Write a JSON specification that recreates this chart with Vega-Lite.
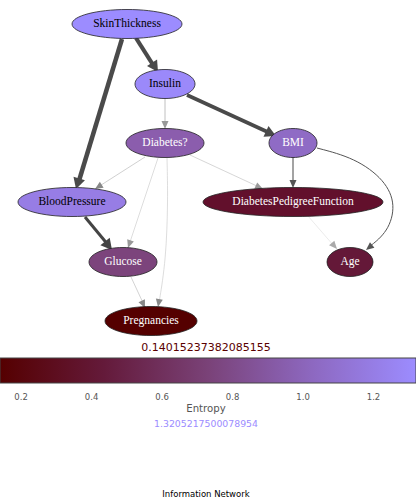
{
"$schema":"https://vega.github.io/schema/vega-lite/v6.json",
"width":416,"height":501,"padding":0,"autosize":{"type":"none"},
"config":{"view":{"stroke":null}},
"datasets":{
"nodes":[
{"name":"SkinThickness","x":127,"y":24,"entropy":1.3205},
{"name":"Insulin","x":165,"y":84,"entropy":1.30},
{"name":"Diabetes?","x":165,"y":143,"entropy":0.95},
{"name":"BMI","x":293,"y":143,"entropy":1.05},
{"name":"BloodPressure","x":72,"y":202,"entropy":1.2},
{"name":"DiabetesPedigreeFunction","x":293,"y":202,"entropy":0.35},
{"name":"Glucose","x":123,"y":262,"entropy":0.75},
{"name":"Age","x":350,"y":262,"entropy":0.42},
{"name":"Pregnancies","x":151,"y":321,"entropy":0.1402}
],
"edges":[
{"edge":"e01","i":0,"x":136,"y":38},{"edge":"e01","i":1,"x":155,"y":68},
{"edge":"e02","i":0,"x":122,"y":39},{"edge":"e02","i":1,"x":78,"y":184},
{"edge":"e03","i":0,"x":187,"y":95},{"edge":"e03","i":1,"x":272,"y":134},
{"edge":"e04","i":0,"x":165,"y":98},{"edge":"e04","i":1,"x":165,"y":126},
{"edge":"e05","i":0,"x":145,"y":157},{"edge":"e05","i":1,"x":98,"y":187},
{"edge":"e06","i":0,"x":158,"y":158},{"edge":"e06","i":1,"x":129,"y":245},
{"edge":"e07","i":0,"x":167,"y":158},{"edge":"e07","i":1,"x":168,"y":200},{"edge":"e07","i":2,"x":166,"y":260},{"edge":"e07","i":3,"x":159,"y":303},
{"edge":"e08","i":0,"x":190,"y":155},{"edge":"e08","i":1,"x":259,"y":187},
{"edge":"e09","i":0,"x":293,"y":157},{"edge":"e09","i":1,"x":293,"y":185},
{"edge":"e10","i":0,"x":317,"y":148},{"edge":"e10","i":1,"x":355,"y":158},{"edge":"e10","i":2,"x":385,"y":180},{"edge":"e10","i":3,"x":396,"y":205},{"edge":"e10","i":4,"x":388,"y":232},{"edge":"e10","i":5,"x":369,"y":247},
{"edge":"e11","i":0,"x":85,"y":217},{"edge":"e11","i":1,"x":109,"y":246},
{"edge":"e12","i":0,"x":131,"y":277},{"edge":"e12","i":1,"x":144,"y":305},
{"edge":"e13","i":0,"x":308,"y":216},{"edge":"e13","i":1,"x":334,"y":246}
],
"arrows":[
{"edge":"e01","px":136,"py":38,"x":158,"y":72,"kind":"big"},
{"edge":"e02","px":122,"py":39,"x":76,"y":189,"kind":"big"},
{"edge":"e03","px":187,"py":95,"x":276,"y":136,"kind":"big"},
{"edge":"e04","px":165,"py":98,"x":165,"y":129,"kind":"small"},
{"edge":"e05","px":145,"py":157,"x":95,"y":189,"kind":"small"},
{"edge":"e06","px":158,"py":158,"x":128,"y":248,"kind":"small"},
{"edge":"e07","px":166,"py":260,"x":158,"y":307,"kind":"small"},
{"edge":"e08","px":190,"py":155,"x":263,"y":189,"kind":"small"},
{"edge":"e09","px":293,"py":157,"x":293,"y":188,"kind":"small"},
{"edge":"e10","px":388,"py":232,"x":366,"y":250,"kind":"small"},
{"edge":"e11","px":85,"py":217,"x":112,"y":250,"kind":"big"},
{"edge":"e12","px":131,"py":277,"x":145,"y":308,"kind":"small"},
{"edge":"e13","px":308,"py":216,"x":337,"y":249,"kind":"small"}
],
"labels":[
{"text":"0.14015237382085155","x":206,"y":348,"role":"min"},
{"text":"Entropy","x":206,"y":409,"role":"axis"},
{"text":"1.3205217500078954","x":206,"y":424,"role":"max"},
{"text":"Information Network","x":206,"y":494,"role":"title"}
],
"ticks":[{"v":0.2},{"v":0.4},{"v":0.6},{"v":0.8},{"v":1.0},{"v":1.2}],
"bar":[{"lo":0.14015,"hi":1.32052}]
},
"layer":[
{"data":{"name":"edges"},"mark":{"type":"line","interpolate":"basis"},
 "encoding":{"x":{"field":"x","type":"quantitative","scale":{"domain":[0,416],"nice":false,"zero":false},"axis":null},
 "y":{"field":"y","type":"quantitative","scale":{"domain":[0,501],"nice":false,"zero":false,"reverse":true},"axis":null},
 "order":{"field":"i"},
 "detail":{"field":"edge"},
 "color":{"field":"edge","type":"nominal","legend":null,"scale":{"domain":["e01","e02","e03","e04","e05","e06","e07","e08","e09","e10","e11","e12","e13"],"range":["#4a4a4a","#4a4a4a","#4a4a4a","#b0b0b0","#c4c4c4","#d4d4d4","#d4d4d4","#cccccc","#666666","#555555","#444444","#c8c8c8","#e6e6e6"]}},
 "strokeWidth":{"field":"edge","type":"ordinal","legend":null,"scale":{"type":"ordinal","domain":["e01","e02","e03","e04","e05","e06","e07","e08","e09","e10","e11","e12","e13"],"range":[4.2,4.5,3.6,0.8,0.8,0.8,0.8,0.8,1.2,1,3,0.8,0.8]}}}},
{"data":{"name":"arrows"},"transform":[{"calculate":"atan2(datum.y-datum.py,datum.x-datum.px)*180/PI","as":"ang"}],
 "mark":{"type":"point","filled":true,"size":4,"opacity":1},
 "encoding":{"x":{"field":"x","type":"quantitative","scale":{"domain":[0,416],"nice":false,"zero":false},"axis":null},"y":{"field":"y","type":"quantitative"},
 "angle":{"field":"ang","type":"quantitative","scale":null},
 "shape":{"field":"kind","type":"nominal","legend":null,"scale":{"domain":["big","small"],"range":["M 0 0 L -11 -6 L -11 6 Z","M 0 0 L -8 -3.5 L -8 3.5 Z"]}},
 "color":{"field":"edge","type":"nominal","legend":null,"scale":{"domain":["e01","e02","e03","e04","e05","e06","e07","e08","e09","e10","e11","e12","e13"],"range":["#4a4a4a","#4a4a4a","#4a4a4a","#999999","#888888","#999999","#888888","#999999","#555555","#555555","#444444","#888888","#aaaaaa"]}}}},
{"data":{"name":"nodes"},"mark":{"type":"point","filled":true,"size":4,"opacity":1,"stroke":"#222","strokeWidth":0.8},
 "encoding":{"x":{"field":"x","type":"quantitative","scale":{"domain":[0,416],"nice":false,"zero":false},"axis":null},"y":{"field":"y","type":"quantitative"},
 "shape":{"field":"name","type":"nominal","legend":null,"scale":{"domain":["SkinThickness","Insulin","Diabetes?","BMI","BloodPressure","DiabetesPedigreeFunction","Glucose","Age","Pregnancies"],
  "range":["M -55 0 A 55 14.5 0 1 0 55 0 A 55 14.5 0 1 0 -55 0 Z","M -30 0 A 30 14.5 0 1 0 30 0 A 30 14.5 0 1 0 -30 0 Z","M -39 0 A 39 14.5 0 1 0 39 0 A 39 14.5 0 1 0 -39 0 Z","M -24 0 A 24 14.5 0 1 0 24 0 A 24 14.5 0 1 0 -24 0 Z","M -54 0 A 54 14.5 0 1 0 54 0 A 54 14.5 0 1 0 -54 0 Z","M -90 0 A 90 14.5 0 1 0 90 0 A 90 14.5 0 1 0 -90 0 Z","M -34 0 A 34 14.5 0 1 0 34 0 A 34 14.5 0 1 0 -34 0 Z","M -23 0 A 23 14.5 0 1 0 23 0 A 23 14.5 0 1 0 -23 0 Z","M -46 0 A 46 14.5 0 1 0 46 0 A 46 14.5 0 1 0 -46 0 Z"]}},
 "fill":{"field":"entropy","type":"quantitative","legend":null,"scale":{"domain":[0.14015,0.435,0.73,1.026,1.32052],"range":["#550000","#641a3a","#7a4278","#8d68c0","#9c8cff"]}}}},
{"data":{"name":"nodes"},"mark":{"type":"text","font":"Liberation Serif","fontSize":11.5},
 "encoding":{"x":{"field":"x","type":"quantitative","scale":{"domain":[0,416],"nice":false,"zero":false},"axis":null},"y":{"field":"y","type":"quantitative"},"text":{"field":"name"},
 "color":{"condition":{"test":"datum.entropy>1.1","value":"#000000"},"value":"#ffffff"}}},
{"data":{"name":"bar"},"mark":{"type":"rect","stroke":"#444","strokeWidth":1,"fill":{"gradient":"linear","x1":0,"x2":1,"y1":0,"y2":0,"stops":[{"offset":0,"color":"#550000"},{"offset":0.25,"color":"#641a3a"},{"offset":0.5,"color":"#7a4278"},{"offset":0.75,"color":"#8d68c0"},{"offset":1,"color":"#9c8cff"}]}},
 "encoding":{"x":{"field":"lo","type":"quantitative","scale":{"domain":[0.14015,1.32052],"nice":false,"zero":false},"axis":null},"x2":{"field":"hi"},"y":{"datum":358},"y2":{"datum":383}}},
{"data":{"name":"ticks"},"mark":{"type":"text","font":"DejaVu Sans","fontSize":8.5,"color":"#555"},
 "encoding":{"x":{"field":"v","type":"quantitative","scale":{"domain":[0.14015,1.32052],"nice":false,"zero":false},"axis":null},"y":{"datum":397},"text":{"field":"v","type":"quantitative","format":".1f"}}},
{"data":{"name":"labels"},"mark":{"type":"text","font":"DejaVu Sans"},
 "encoding":{"x":{"field":"x","type":"quantitative","scale":{"domain":[0,416],"nice":false,"zero":false},"axis":null},"y":{"field":"y","type":"quantitative"},"text":{"field":"text"},
 "size":{"field":"role","type":"nominal","legend":null,"scale":{"domain":["min","axis","max","title"],"range":[11,8.5,11,8.5]}},
 "color":{"field":"role","type":"nominal","legend":null,"scale":{"domain":["min","axis","max","title"],"range":["#5a0000","#555555","#9c8cff","#000000"]}}}}
],
"resolve":{"scale":{"x":"independent","color":"independent","size":"independent","shape":"independent","strokeWidth":"independent"}}
}
